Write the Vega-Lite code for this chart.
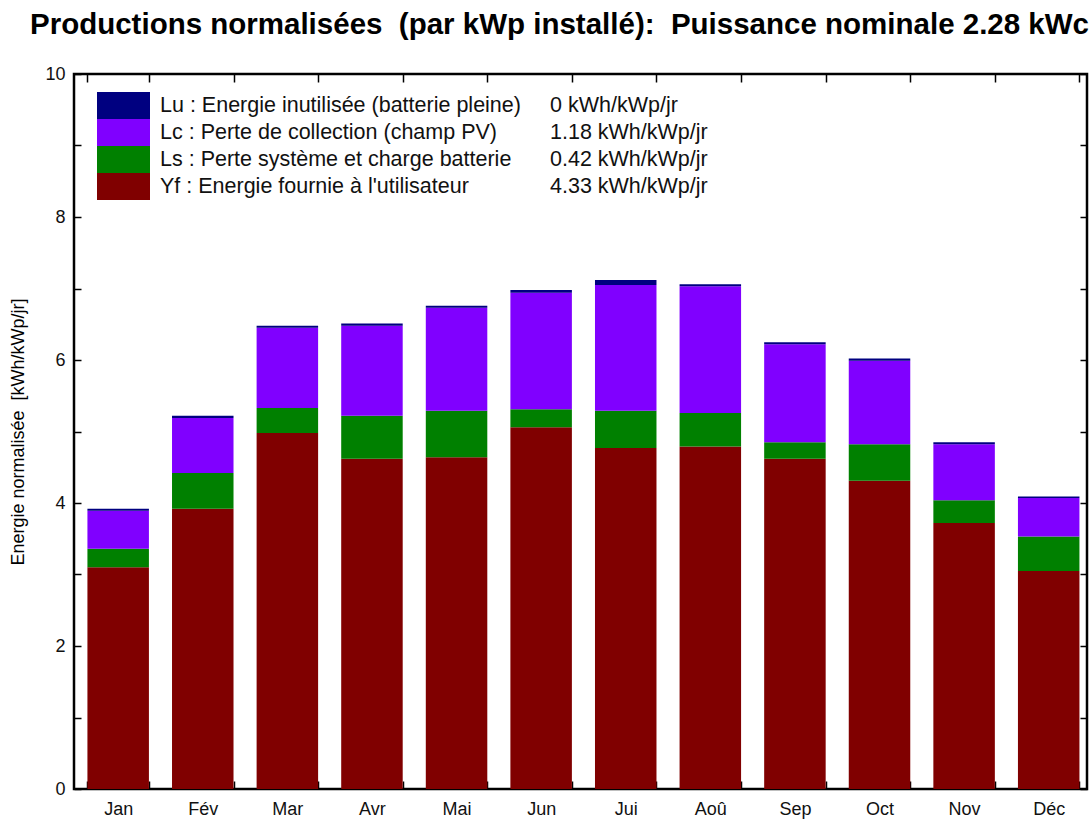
{
  "$schema": "https://vega.github.io/schema/vega-lite/v6.json",
  "width": 1013,
  "height": 715,
  "autosize": {"type": "none"},
  "padding": {"left": 74, "top": 74, "right": 5, "bottom": 32},
  "background": "white",
  "config": {
    "font": "Liberation Sans",
    "view": {"stroke": "#000", "strokeWidth": 2.5},
    "axis": {"domain": false, "grid": false, "labelFont": "Liberation Sans", "labelFontSize": 18, "labelColor": "#111", "tickColor": "#000", "tickWidth": 1.5, "titleFont": "Liberation Sans"},
    "legend": {"labelFont": "Liberation Sans"}
  },
  "title": {
    "text": "Productions normalisées\u00a0 (par kWp installé):\u00a0 Puissance nominale 2.28 kWc",
    "font": "Liberation Sans",
    "fontSize": 29.5,
    "fontWeight": "bold",
    "color": "#000",
    "anchor": "middle",
    "frame": "group",
    "baseline": "alphabetic",
    "offset": 2,
    "dx": -21
  },
  "datasets": {
    "series": [
      {"code": "Yf", "serie": "Yf : Energie fournie à l'utilisateur", "rang": 1, "moy": "4.33 kWh/kWp/jr"},
      {"code": "Ls", "serie": "Ls : Perte système et charge batterie", "rang": 2, "moy": "0.42 kWh/kWp/jr"},
      {"code": "Lc", "serie": "Lc : Perte de collection (champ PV)", "rang": 3, "moy": "1.18 kWh/kWp/jr"},
      {"code": "Lu", "serie": "Lu : Energie inutilisée (batterie pleine)", "rang": 4, "moy": "0 kWh/kWp/jr"}
    ]
  },
  "data": {
    "values": [
      {"mois": "Jan", "code": "Yf", "val": 3.10}, {"mois": "Jan", "code": "Ls", "val": 0.26}, {"mois": "Jan", "code": "Lc", "val": 0.53}, {"mois": "Jan", "code": "Lu", "val": 0.03},
      {"mois": "Fév", "code": "Yf", "val": 3.92}, {"mois": "Fév", "code": "Ls", "val": 0.50}, {"mois": "Fév", "code": "Lc", "val": 0.77}, {"mois": "Fév", "code": "Lu", "val": 0.03},
      {"mois": "Mar", "code": "Yf", "val": 4.98}, {"mois": "Mar", "code": "Ls", "val": 0.35}, {"mois": "Mar", "code": "Lc", "val": 1.12}, {"mois": "Mar", "code": "Lu", "val": 0.03},
      {"mois": "Avr", "code": "Yf", "val": 4.62}, {"mois": "Avr", "code": "Ls", "val": 0.60}, {"mois": "Avr", "code": "Lc", "val": 1.26}, {"mois": "Avr", "code": "Lu", "val": 0.03},
      {"mois": "Mai", "code": "Yf", "val": 4.64}, {"mois": "Mai", "code": "Ls", "val": 0.65}, {"mois": "Mai", "code": "Lc", "val": 1.44}, {"mois": "Mai", "code": "Lu", "val": 0.03},
      {"mois": "Jun", "code": "Yf", "val": 5.06}, {"mois": "Jun", "code": "Ls", "val": 0.25}, {"mois": "Jun", "code": "Lc", "val": 1.63}, {"mois": "Jun", "code": "Lu", "val": 0.04},
      {"mois": "Jui", "code": "Yf", "val": 4.77}, {"mois": "Jui", "code": "Ls", "val": 0.52}, {"mois": "Jui", "code": "Lc", "val": 1.76}, {"mois": "Jui", "code": "Lu", "val": 0.07},
      {"mois": "Aoû", "code": "Yf", "val": 4.79}, {"mois": "Aoû", "code": "Ls", "val": 0.47}, {"mois": "Aoû", "code": "Lc", "val": 1.77}, {"mois": "Aoû", "code": "Lu", "val": 0.03},
      {"mois": "Sep", "code": "Yf", "val": 4.62}, {"mois": "Sep", "code": "Ls", "val": 0.23}, {"mois": "Sep", "code": "Lc", "val": 1.37}, {"mois": "Sep", "code": "Lu", "val": 0.03},
      {"mois": "Oct", "code": "Yf", "val": 4.31}, {"mois": "Oct", "code": "Ls", "val": 0.51}, {"mois": "Oct", "code": "Lc", "val": 1.17}, {"mois": "Oct", "code": "Lu", "val": 0.03},
      {"mois": "Nov", "code": "Yf", "val": 3.72}, {"mois": "Nov", "code": "Ls", "val": 0.32}, {"mois": "Nov", "code": "Lc", "val": 0.78}, {"mois": "Nov", "code": "Lu", "val": 0.03},
      {"mois": "Déc", "code": "Yf", "val": 3.05}, {"mois": "Déc", "code": "Ls", "val": 0.48}, {"mois": "Déc", "code": "Lc", "val": 0.54}, {"mois": "Déc", "code": "Lu", "val": 0.02}
    ]
  },
  "transform": [
    {"lookup": "code", "from": {"data": {"name": "series"}, "key": "code", "fields": ["serie", "rang", "moy"]}}
  ],
  "layer": [
    {
      "mark": {"type": "bar"},
      "encoding": {
        "x": {
          "field": "mois", "type": "nominal", "sort": null,
          "scale": {"paddingInner": 0.273, "paddingOuter": 0.124, "align": 0.64},
          "axis": {"orient": "bottom", "title": null, "labelAngle": 0, "tickBand": "extent", "tickSize": -8, "labelPadding": 19}
        },
        "y": {
          "field": "val", "type": "quantitative", "stack": "zero",
          "scale": {"domain": [0, 10], "nice": false},
          "axis": {
            "orient": "left",
            "title": "Energie normalisée\u00a0 [kWh/kWp/jr]",
            "titleFontSize": 18, "titleFontWeight": "normal", "titleColor": "#000", "titlePadding": 17,
            "values": [0, 1, 2, 3, 4, 5, 6, 7, 8, 9, 10],
            "labelExpr": "datum.value % 2 == 0 ? datum.label : ''",
            "tickSize": -7, "labelPadding": 16
          }
        },
        "color": {
          "field": "serie", "type": "nominal",
          "scale": {
            "domain": ["Lu : Energie inutilisée (batterie pleine)", "Lc : Perte de collection (champ PV)", "Ls : Perte système et charge batterie", "Yf : Energie fournie à l'utilisateur"],
            "range": ["#000080", "#8000FF", "#008000", "#800000"]
          },
          "legend": {
            "orient": "none", "legendX": 36, "legendY": 18, "title": null, "padding": 0,
            "symbolType": "M-1.963,-1H1.963V1H-1.963Z", "symbolSize": 729, "symbolStrokeWidth": 0, "symbolOpacity": 1,
            "labelOffset": 23, "labelFontSize": 21.5, "labelColor": "#111", "labelLimit": 700, "rowPadding": 0
          }
        },
        "opacity": {
          "field": "moy", "type": "ordinal",
          "scale": {"domain": ["0 kWh/kWp/jr", "1.18 kWh/kWp/jr", "0.42 kWh/kWp/jr", "4.33 kWh/kWp/jr"], "range": [1, 1]},
          "legend": {
            "orient": "none", "legendX": 449, "legendY": 18, "title": null, "padding": 0,
            "symbolType": "M0,-1L0,1", "symbolSize": 729, "symbolStrokeWidth": 0, "symbolOpacity": 0,
            "symbolFillColor": "white", "symbolStrokeColor": "white",
            "labelOffset": 0, "labelFontSize": 21.5, "labelColor": "#111", "labelLimit": 400, "rowPadding": 0
          }
        },
        "order": {"field": "rang", "type": "quantitative", "sort": "ascending"}
      }
    },
    {
      "mark": {"type": "bar", "opacity": 0},
      "encoding": {
        "x": {"field": "mois", "type": "nominal", "sort": null, "axis": {"orient": "top", "labels": false, "title": null, "tickBand": "extent", "tickSize": -8}},
        "y": {"field": "val", "type": "quantitative", "axis": {"orient": "right", "labels": false, "title": null, "values": [0, 1, 2, 3, 4, 5, 6, 7, 8, 9, 10], "tickSize": -7}}
      }
    }
  ]
}
